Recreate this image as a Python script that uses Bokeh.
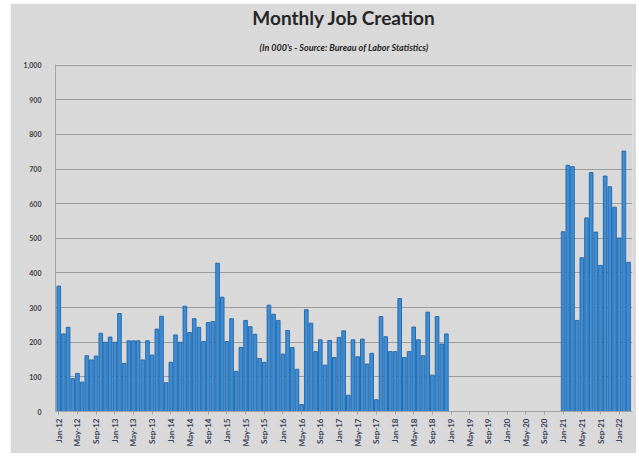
import numpy as np
from bokeh.plotting import figure
from bokeh.models import Range1d, FixedTicker, NumeralTickFormatter, Title, Spacer
from bokeh.layouts import row, column
from bokeh.embed import file_html
from bokeh.resources import INLINE

# ---- data (thousands of jobs, monthly, Jan-12 .. Mar-22; 2019-2020 not shown) ----
jobs_2012 = [362, 224, 243, 95, 110, 85, 161, 149, 160, 226, 200, 215]
jobs_2013 = [200, 283, 139, 204, 204, 204, 149, 204, 163, 238, 275, 83]
jobs_2014 = [142, 221, 200, 304, 228, 268, 243, 202, 257, 260, 428, 330]
jobs_2015 = [202, 268, 116, 185, 263, 245, 223, 153, 142, 307, 281, 263]
jobs_2016 = [166, 234, 185, 122, 20, 294, 255, 173, 207, 134, 205, 156]
jobs_2017 = [214, 233, 47, 207, 158, 209, 137, 168, 34, 274, 216, 173]
jobs_2018 = [173, 326, 156, 173, 244, 207, 161, 287, 105, 274, 195, 224]
jobs_2019 = [None] * 12
jobs_2020 = [None] * 12
jobs_2021 = [519, 711, 707, 263, 444, 559, 690, 518, 422, 680, 649, 590]
jobs_2022 = [501, 752, 431]

tick_labels = ["Jan-12", "May-12", "Sep-12", "Jan-13", "May-13", "Sep-13",
               "Jan-14", "May-14", "Sep-14", "Jan-15", "May-15", "Sep-15",
               "Jan-16", "May-16", "Sep-16", "Jan-17", "May-17", "Sep-17",
               "Jan-18", "May-18", "Sep-18", "Jan-19", "May-19", "Sep-19",
               "Jan-20", "May-20", "Sep-20", "Jan-21", "May-21", "Sep-21",
               "Jan-22"]

title_text = "Monthly Job Creation"
subtitle_text = "(In 000's - Source: Bureau of Labor Statistics)"

values = (jobs_2012 + jobs_2013 + jobs_2014 + jobs_2015 + jobs_2016 + jobs_2017 +
          jobs_2018 + jobs_2019 + jobs_2020 + jobs_2021 + jobs_2022)
tops = np.array([np.nan if v is None else v for v in values], dtype=float)
xs = np.arange(len(values))

BG = "#d9d9d9"
FONT = "Lato"

p = figure(width=626, height=450, output_backend="svg", toolbar_location=None,
           x_range=Range1d(-0.7, 122.85), y_range=Range1d(0, 1002),
           min_border_left=45, min_border_right=4, min_border_bottom=42,
           min_border_top=10)
p.background_fill_color = BG
p.border_fill_color = BG
p.outline_line_color = None

p.title.text = title_text
p.title.align = "center"
p.title.text_font = FONT
p.title.text_font_size = "19px"
p.title.text_font_style = "bold"
p.title.text_color = "#262626"
p.title.offset = -19
p.title.standoff = 0

sub_title = Title(text=subtitle_text, align="center", text_font=FONT,
                  text_font_size="9px", text_font_style="bold italic",
                  text_color="#262626", offset=-19, standoff=23)
p.add_layout(sub_title, "above")

p.vbar(x=xs, top=tops, width=0.78, bottom=0,
       fill_color="#3b8ed6", line_color="#2263a5", line_width=0.9)

# y axis
p.yaxis.ticker = FixedTicker(ticks=list(range(0, 1001, 100)))
p.yaxis.formatter = NumeralTickFormatter(format="0,0")
p.yaxis.major_tick_line_color = None
p.yaxis.minor_tick_line_color = None
p.yaxis.axis_line_color = "#a3a3a3"
p.yaxis.major_label_text_font = FONT
p.yaxis.major_label_text_font_size = "7px"
p.yaxis.major_label_text_font_style = "bold"
p.yaxis.major_label_text_color = "#404040"
p.yaxis.major_label_standoff = 8

# x axis
tick_pos = [i * 4 for i in range(len(tick_labels))]
p.xaxis.ticker = FixedTicker(ticks=tick_pos)
p.xaxis.major_label_overrides = {t: lab for t, lab in zip(tick_pos, tick_labels)}
p.xaxis.major_label_orientation = np.pi / 2
p.xaxis.major_label_text_font = FONT
p.xaxis.major_label_text_font_size = "8px"
p.xaxis.major_label_text_font_style = "bold"
p.xaxis.major_label_text_color = "#34435a"
p.xaxis.major_tick_out = 3
p.xaxis.major_tick_in = 0
p.xaxis.major_tick_line_color = "#a3a3a3"
p.xaxis.minor_tick_line_color = None
p.xaxis.axis_line_color = "#a3a3a3"
p.xaxis.major_label_standoff = 4

p.xgrid.grid_line_color = None
p.ygrid.grid_line_color = "#9c9c9c"
p.ygrid.grid_line_width = 1

layout = column(Spacer(height=3), row(Spacer(width=10), p))

open("out.html", "w").write(file_html(layout, INLINE))
